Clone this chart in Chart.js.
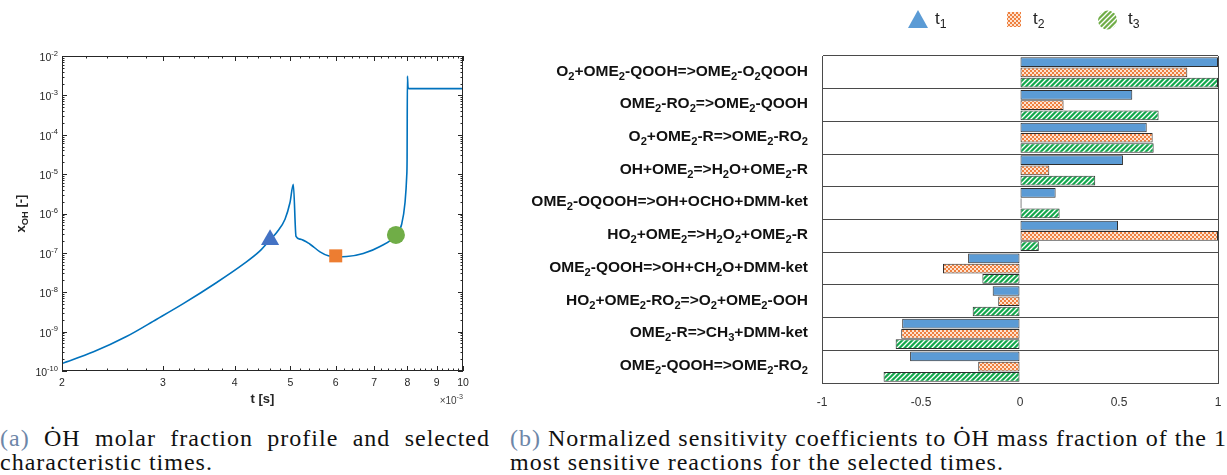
<!DOCTYPE html>
<html>
<head>
<meta charset="utf-8">
<script src="https://cdn.jsdelivr.net/npm/chart.js@4.4.1/dist/chart.umd.min.js"></script>
<style>
  html, body { margin: 0; padding: 0; background: #fff; width: 1227px; height: 475px; overflow: hidden; }
  #chartA { position: absolute; left: 0; top: 0; }
  #chartB { position: absolute; left: 500px; top: 0; }
  .cap { position: absolute; font-family: 'Liberation Serif', serif; font-size: 24px; line-height: 24px; letter-spacing: 1px; color: #111; white-space: nowrap; }
  .cap .lab { color: #6d86a8; }
  .just { text-align: justify; text-align-last: justify; white-space: normal; }
</style>
</head>
<body>
<canvas id="chartA" width="490" height="412"></canvas>
<canvas id="chartB" width="727" height="420"></canvas>

<div class="cap just" style="left:0;top:426px;width:490px;"><span class="lab">(a)</span> ȮH molar fraction profile and selected</div>
<div class="cap" style="left:0;top:450px;">characteristic times.</div>
<div class="cap just" style="left:510px;top:426px;width:730px;"><span class="lab">(b)</span> Normalized sensitivity coefficients to ȮH mass fraction of the 10</div>
<div class="cap" style="left:510px;top:450px;">most sensitive reactions for the selected times.</div>

<script>
// ---- (a) OH profile, t in 1e-3 s ----
const tMs = [2, 2.27, 2.59, 2.925, 3.254, 3.721, 4.141, 4.427, 4.609, 4.734, 4.895, 4.994, 5.061, 5.116, 5.199, 5.412, 5.633, 5.824, 6.0, 6.27, 6.70, 7.167, 7.642, 7.818, 7.924, 7.978, 7.99, 8.0, 8.02, 8.05, 10];
const xOH = [1.55e-10, 3.07e-10, 7.5e-10, 2.07e-9, 5.14e-9, 1.77e-8, 5.16e-8, 1.12e-7, 2.14e-7, 3.3e-7, 7.16e-7, 1.9e-6, 5.55e-6, 2.61e-7, 2.23e-7, 1.66e-7, 1.06e-7, 8.4e-8, 8.0e-8, 8.1e-8, 9.66e-8, 1.45e-7, 2.86e-7, 5.35e-7, 1.9e-6, 9.0e-6, 2.4e-5, 3.1e-3, 1.6e-3, 1.48e-3, 1.48e-3];
const tTicks = [2, 3, 4, 5, 6, 7, 8, 9, 10];
const yExps = [-10, -9, -8, -7, -6, -5, -4, -3, -2];
// selected times t1, t2, t3
const selT = [4.61, 6.0, 7.64];
const selX = [2.14e-7, 8.4e-8, 2.86e-7];

// ---- (b) sensitivities ----
const reactions = [
  'O_2+OME_2-QOOH=>OME_2-O_2QOOH',
  'OME_2-RO_2=>OME_2-QOOH',
  'O_2+OME_2-R=>OME_2-RO_2',
  'OH+OME_2=>H_2O+OME_2-R',
  'OME_2-OQOOH=>OH+OCHO+DMM-ket',
  'HO_2+OME_2=>H_2O_2+OME_2-R',
  'OME_2-QOOH=>OH+CH_2O+DMM-ket',
  'HO_2+OME_2-RO_2=>O_2+OME_2-OOH',
  'OME_2-R=>CH_3+DMM-ket',
  'OME_2-QOOH=>OME_2-RO_2'
];
const sensT1 = [1.0, 0.567, 0.64, 0.52, 0.18, 0.495, -0.262, -0.138, -0.595, -0.555];
const sensT2 = [0.845, 0.22, 0.67, 0.148, 0.008, 1.0, -0.389, -0.11, -0.60, -0.211];
const sensT3 = [1.0, 0.70, 0.675, 0.38, 0.20, 0.095, -0.19, -0.239, -0.628, -0.689];
const sensTicks = [-1, -0.5, 0, 0.5, 1];
const timeNames = ['t_1', 't_2', 't_3'];

const SANS = "'Liberation Sans', Arial, sans-serif";
const NARROW = "'Liberation Sans Narrow', 'Liberation Sans', sans-serif";

// text with _x / ^{..} sub- and superscripts
function richText(ctx, str, x, y, size, weight, family, align) {
  const segs = [];
  let i = 0;
  while (i < str.length) {
    const c = str[i];
    if ((c === '_' || c === '^') && i + 1 < str.length) {
      let txt;
      if (str[i + 1] === '{') {
        const j = str.indexOf('}', i);
        txt = str.slice(i + 2, j);
        i = j + 1;
      } else {
        txt = str[i + 1];
        i += 2;
      }
      segs.push({ t: txt, k: c });
    } else {
      let j = i;
      while (j < str.length && str[j] !== '_' && str[j] !== '^') j++;
      segs.push({ t: str.slice(i, j), k: '' });
      i = j;
    }
  }
  let total = 0;
  segs.forEach(s => {
    s.size = s.k ? size * 0.72 : size;
    ctx.font = weight + ' ' + s.size + 'px ' + family;
    s.w = ctx.measureText(s.t).width;
    total += s.w;
  });
  let cx = x;
  if (align === 'right') cx = x - total;
  else if (align === 'center') cx = x - total / 2;
  ctx.textAlign = 'left';
  ctx.textBaseline = 'middle';
  segs.forEach(s => {
    ctx.font = weight + ' ' + s.size + 'px ' + family;
    let dy = 0;
    if (s.k === '_') dy = size * 0.34;
    if (s.k === '^') dy = -size * 0.42;
    ctx.fillText(s.t, cx, y + dy);
    cx += s.w;
  });
}

/* =========================
   (a) MATLAB style box
========================= */
const matlabBox = {
  id: 'matlabBox',
  afterDraw(chart) {
    const { ctx, chartArea: a, scales: { x, y } } = chart;
    ctx.save();
    ctx.strokeStyle = '#262626';
    ctx.lineWidth = 1;
    ctx.strokeRect(a.left + 0.5, a.top + 0.5, a.right - a.left - 1, a.bottom - a.top - 1);

    ctx.beginPath();
    for (let k = 20; k <= 100; k += 2) {
      const px = Math.round(x.getPixelForValue(k / 10)) + 0.5;
      const len = k % 10 === 0 ? 5 : 2.5;
      ctx.moveTo(px, a.bottom); ctx.lineTo(px, a.bottom - len);
      ctx.moveTo(px, a.top); ctx.lineTo(px, a.top + len);
    }
    for (let e = -10; e <= -3; e++) {
      for (let m = 1; m <= 9; m++) {
        const py = Math.round(y.getPixelForValue(m * Math.pow(10, e))) + 0.5;
        const len = m === 1 ? 5 : 2.5;
        ctx.moveTo(a.left, py); ctx.lineTo(a.left + len, py);
        ctx.moveTo(a.right, py); ctx.lineTo(a.right - len, py);
      }
    }
    ctx.stroke();

    ctx.fillStyle = '#262626';
    yExps.forEach(e => {
      richText(ctx, '10^{' + e + '}', a.left - 4, y.getPixelForValue(Math.pow(10, e)) + 2, 10.5, 'normal', SANS, 'right');
    });
    richText(ctx, 't [s]', (a.left + a.right) / 2, 399, 13, 'bold', SANS, 'center');
    ctx.fillStyle = '#404040';
    richText(ctx, '×10^{-3}', a.right, 401, 10, 'normal', SANS, 'right');

    ctx.fillStyle = '#262626';
    ctx.translate(21, (a.top + a.bottom) / 2);
    ctx.rotate(-Math.PI / 2);
    richText(ctx, 'x_{OH} [-]', 0, 0, 13, 'bold', SANS, 'center');
    ctx.restore();
  }
};

new Chart(document.getElementById('chartA'), {
  type: 'line',
  data: {
    datasets: [
      {
        data: [{ x: selT[0], y: selX[0] }],
        pointStyle: 'triangle', pointRadius: 10.5, backgroundColor: '#4472c4', borderWidth: 0, showLine: false, order: 0
      },
      {
        data: [{ x: selT[1], y: selX[1] }],
        pointStyle: 'rect', pointRadius: 9.2, backgroundColor: '#ed7d31', borderWidth: 0, showLine: false, order: 0
      },
      {
        data: [{ x: selT[2], y: selX[2] }],
        pointStyle: 'circle', pointRadius: 9, backgroundColor: '#70ad47', borderWidth: 0, showLine: false, order: 0
      },
      {
        data: tMs.map((t, i) => ({ x: t, y: xOH[i] })),
        borderColor: '#0072bd', borderWidth: 1.6, pointRadius: 0,
        cubicInterpolationMode: 'monotone', fill: false, order: 1
      }
    ]
  },
  options: {
    responsive: false,
    animation: false,
    layout: { padding: { left: 12, top: 56, right: 27, bottom: 0 } },
    plugins: { legend: { display: false }, tooltip: { enabled: false } },
    scales: {
      x: {
        type: 'logarithmic', min: 2, max: 10,
        afterBuildTicks: s => { s.ticks = tTicks.map(v => ({ value: v })); },
        afterFit: s => { s.height = 41; },
        grid: { display: false, drawTicks: false }, border: { display: false },
        ticks: {
          autoSkip: false, maxRotation: 0, padding: 6, color: '#262626',
          font: { family: SANS, size: 10.5 },
          callback: v => String(v)
        }
      },
      y: {
        type: 'logarithmic', min: 1e-10, max: 1e-2,
        afterFit: s => { s.width = 50; },
        grid: { display: false, drawTicks: false }, border: { display: false },
        ticks: { display: false }
      }
    }
  },
  plugins: [matlabBox]
});

/* =========================
   (b) patterns + labels
========================= */
const ctxB = document.getElementById('chartB').getContext('2d');

function checkerPattern(dark, light) {
  const c = document.createElement('canvas');
  c.width = 4; c.height = 4;
  const g = c.getContext('2d');
  g.fillStyle = light; g.fillRect(0, 0, 4, 4);
  g.fillStyle = dark;
  g.fillRect(0, 0, 2, 2);
  g.fillRect(2, 2, 2, 2);
  return ctxB.createPattern(c, 'repeat');
}

function stripePattern(color) {
  const c = document.createElement('canvas');
  c.width = 5; c.height = 5;
  const g = c.getContext('2d');
  g.fillStyle = color; g.fillRect(0, 0, 5, 5);
  g.strokeStyle = '#ffffff'; g.lineWidth = 1.3;
  g.beginPath();
  g.moveTo(0, 5); g.lineTo(5, 0);
  g.moveTo(-2.5, 2.5); g.lineTo(2.5, -2.5);
  g.moveTo(2.5, 7.5); g.lineTo(7.5, 2.5);
  g.stroke();
  return ctxB.createPattern(c, 'repeat');
}

const fillT1 = '#5b9bd5';
const fillT2 = checkerPattern('#ee8040', '#fde3d0');
const fillT3 = stripePattern('#12a84c');
const legendT3 = stripePattern('#70ad47');

const sensLabels = {
  id: 'sensLabels',
  afterDraw(chart) {
    const { ctx, chartArea: a, scales: { y } } = chart;
    ctx.save();
    ctx.fillStyle = '#111';
    chart.data.labels.forEach((lab, i) => {
      richText(ctx, lab, a.left - 14, y.getPixelForTick(i) - 1, 15.5, 'bold', NARROW, 'right');
    });

    // legend
    ctx.fillStyle = fillT1;
    ctx.beginPath();
    ctx.moveTo(418, 10); ctx.lineTo(428, 28); ctx.lineTo(408, 28); ctx.closePath();
    ctx.fill();
    ctx.fillStyle = fillT2;
    ctx.fillRect(507, 12, 14, 15);
    ctx.fillStyle = legendT3;
    ctx.beginPath();
    ctx.arc(607.5, 20, 9.5, 0, Math.PI * 2);
    ctx.fill();

    ctx.fillStyle = '#222';
    richText(ctx, timeNames[0], 435, 19, 17, 'normal', NARROW, 'left');
    richText(ctx, timeNames[1], 533, 19, 17, 'normal', NARROW, 'left');
    richText(ctx, timeNames[2], 628, 19, 17, 'normal', NARROW, 'left');
    ctx.restore();
  }
};

const barCommon = {
  borderColor: '#2e2e2e', borderWidth: 1, borderSkipped: false,
  categoryPercentage: 0.94, barPercentage: 0.95
};

new Chart(ctxB, {
  type: 'bar',
  data: {
    labels: reactions,
    datasets: [
      Object.assign({ label: 't1', data: sensT1, backgroundColor: fillT1 }, barCommon),
      Object.assign({ label: 't2', data: sensT2, backgroundColor: fillT2 }, barCommon),
      Object.assign({ label: 't3', data: sensT3, backgroundColor: fillT3 }, barCommon)
    ]
  },
  options: {
    indexAxis: 'y',
    responsive: false,
    animation: false,
    layout: { padding: { left: 0, top: 56, right: 9, bottom: 0 } },
    plugins: { legend: { display: false }, tooltip: { enabled: false } },
    scales: {
      x: {
        min: -1, max: 1,
        afterBuildTicks: s => { s.ticks = sensTicks.map(v => ({ value: v })); },
        afterFit: s => { s.height = 37; },
        grid: {
          drawTicks: true, tickLength: 12, tickColor: 'rgba(0,0,0,0)',
          color: c => (c.tick && c.tick.value === 1 ? '#4a4a4a' : 'rgba(0,0,0,0)')
        },
        border: { display: true, color: '#4a4a4a' },
        ticks: {
          padding: 0, color: '#333', font: { family: NARROW, size: 12 },
          callback: v => String(v)
        }
      },
      y: {
        afterFit: s => { s.width = 322; },
        grid: { offset: true, drawTicks: false, color: '#4a4a4a' },
        border: { display: true, color: '#4a4a4a' },
        ticks: { display: false }
      }
    }
  },
  plugins: [sensLabels]
});
</script>
</body>
</html>
